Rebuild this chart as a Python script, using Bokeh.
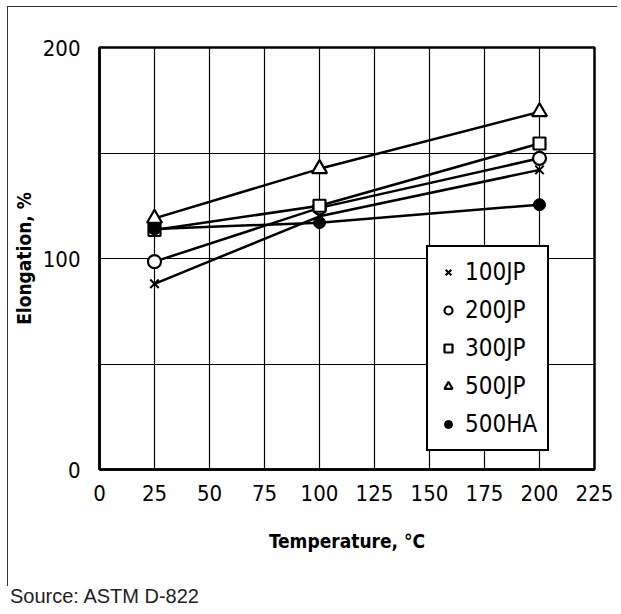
from bokeh.plotting import figure
from bokeh.models import Legend, LegendItem, FixedTicker, Range1d, Div
from bokeh.layouts import column
from bokeh.embed import file_html
from bokeh.resources import INLINE

# ---- data ----
temps = [25, 100, 200]
s100JP = [88, 120, 142]
s200JP = [98.5, 124, 147.5]
s300JP = [113.5, 125, 154.5]
s500JP = [119, 142.5, 169.5]
s500HA = [114, 117, 125.5]
series_names = ["100JP", "200JP", "300JP", "500JP", "500HA"]
x_ticks = [0, 25, 50, 75, 100, 125, 150, 175, 200, 225]
y_ticks = [0, 50, 100, 150, 200]
y_hidden = {50: "", 150: ""}
source_text = "Source: ASTM D-822"

NARROW = "DejaVu Sans Condensed, Roboto, sans-serif"
W, H = 610, 580
BL, BT = 91, 40

p = figure(width=W, height=H, x_range=Range1d(0, 225), y_range=Range1d(0, 200),
           output_backend="svg", toolbar_location=None, margin=(6, 0, 0, 7),
           min_border_left=BL, min_border_right=W - BL - 495,
           min_border_top=BT, min_border_bottom=H - BT - 422)
p.styles = {"border-top": "1.5px solid #333", "border-left": "1.5px solid #333"}

p.xaxis.ticker = FixedTicker(ticks=x_ticks)
p.yaxis.ticker = FixedTicker(ticks=y_ticks)
p.yaxis.major_label_overrides = y_hidden
for ax in (p.xaxis[0], p.yaxis[0]):
    ax.major_tick_line_color = None
    ax.minor_tick_line_color = None
    ax.axis_line_color = "black"
    ax.axis_line_width = 2.5
    ax.major_label_text_font = NARROW
    ax.major_label_text_font_size = "22px"
    ax.major_label_text_color = "black"
    ax.axis_label_text_font = NARROW
    ax.axis_label_text_font_style = "bold"
    ax.axis_label_text_font_size = "19px"
    ax.axis_label_text_color = "black"
p.xaxis.axis_label = "Temperature, °C"
p.yaxis.axis_label = "Elongation, %"
p.xaxis.major_label_standoff = 9
p.yaxis.major_label_standoff = 13
p.xaxis.axis_label_standoff = 26
p.yaxis.axis_label_standoff = 5

p.xgrid.grid_line_color = "black"
p.ygrid.grid_line_color = "black"
p.xgrid.grid_line_width = 1.2
p.ygrid.grid_line_width = 1.2
p.outline_line_color = "black"
p.outline_line_width = 2.5

data = [s100JP, s200JP, s300JP, s500JP, s500HA]
for ys in data:
    p.line(temps, ys, line_color="black", line_width=2.5)

r100 = p.scatter(temps, s100JP, marker="x", size=12, line_color="black", line_width=2)
r200 = p.scatter(temps, s200JP, marker="circle", size=13, line_color="black", fill_color="white", line_width=2.2)
r300 = p.scatter(temps, s300JP, marker="square", size=12, line_color="black", fill_color="white", line_width=2.2)
r500 = p.scatter(temps, s500JP, marker="triangle", size=15, line_color="black", fill_color="white", line_width=2.2)
r5HA = p.scatter(temps, s500HA, marker="circle", size=12, line_color="black", fill_color="black", line_width=1)

items = [LegendItem(label=n, renderers=[r]) for n, r in zip(series_names, [r100, r200, r300, r500, r5HA])]
legend = Legend(items=items, location=(327, 18), margin=0, padding=10, spacing=8,
                glyph_width=20, glyph_height=30, label_height=30, label_standoff=7,
                label_text_font=NARROW, label_text_font_size="24px", label_text_color="black",
                border_line_color="black", border_line_width=2.5, border_line_alpha=1.0,
                background_fill_color="white", background_fill_alpha=1.0)
p.add_layout(legend)

src = Div(text=source_text, width=400, height=20, margin=(0, 0, 0, 10),
          styles={"font-family": "'Liberation Sans', Arial, sans-serif", "font-size": "20px",
                  "color": "#222", "line-height": "20px"})

layout = column(p, src, spacing=0)
open("out.html", "w").write(file_html(layout, INLINE))
